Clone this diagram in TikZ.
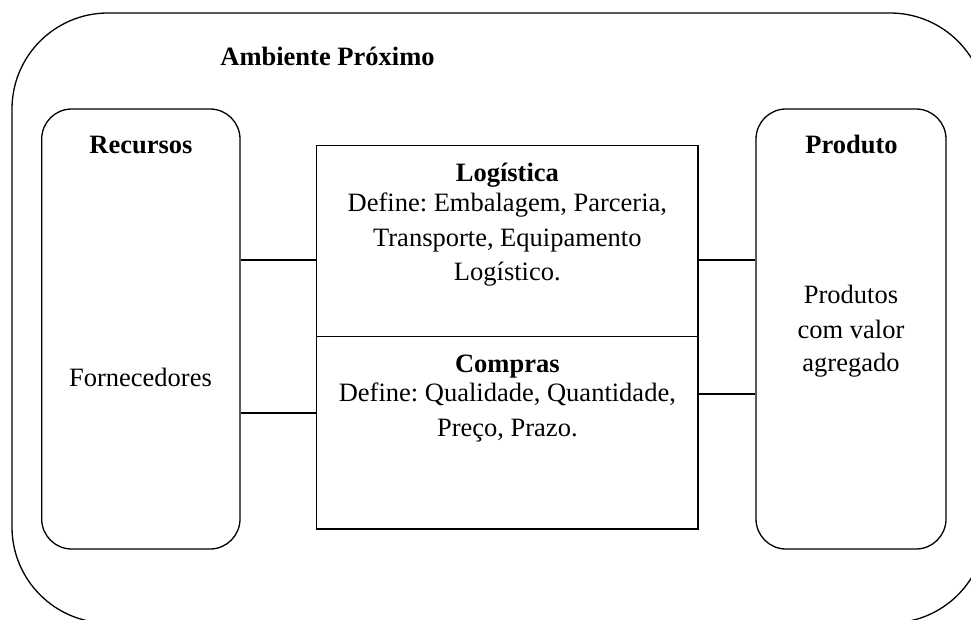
\documentclass[tikz,border=0pt]{standalone}
\usepackage{fontspec}
\setmainfont{Liberation Serif}
\frenchspacing
\begin{document}
\begin{tikzpicture}[x=1pt,y=-1pt,line width=1.3pt,
  txt/.style={font=\fontsize{26.5}{34.5}\selectfont, anchor=base, inner sep=0},
  bold/.style={txt, font=\fontsize{26.5}{34.5}\selectfont\bfseries},
  sidebox/.style={draw, rounded corners=30pt, inner sep=0, minimum height=440pt},
  midbox/.style={draw, inner sep=0, minimum width=381.3pt}]
\useasboundingbox (0,0) rectangle (971,619);
\clip (0,0) rectangle (971,619);
% outer environment
\draw[rounded corners=96pt] (12,13) rectangle (986,623);
\node[bold] (amb) at (327.5,65) {Ambiente Próximo};
% side boxes
\node[sidebox, minimum width=198.3pt] (rec) at (140.85,329) {};
\node[sidebox, minimum width=190pt] (prod) at (851,329) {};
% middle boxes
\node[midbox, minimum height=191pt] (log) at (507.35,241.2) {};
\node[midbox, minimum height=192.3pt] (comp) at (507.35,432.85) {};
% texts
\node[bold] (rect) at (141,153) {Recursos};
\node[txt] (forn) at (140.5,386.7) {Fornecedores};
\node[bold] (prodt) at (851.5,153) {Produto};
\node[txt] (p1) at (851,303.3) {Produtos};
\node[txt] (p2) at (851,338.3) {com valor};
\node[txt] (p3) at (851,371.7) {agregado};
\node[bold] (logt) at (507.35,181) {Logística};
\node[txt] (l1) at (507.35,211.7) {Define: Embalagem, Parceria,};
\node[txt] (l2) at (507.35,246) {Transporte, Equipamento};
\node[txt] (l3) at (507.35,280.5) {Logístico.};
\node[bold] (compt) at (507.35,372.7) {Compras};
\node[txt] (c1) at (507.35,401.7) {Define: Qualidade, Quantidade,};
\node[txt] (c2) at (507.35,436.5) {Preço, Prazo.};
% connectors
\draw (rec.east |- 0,260) -- (log.west |- 0,260);
\draw (rec.east |- 0,413) -- (comp.west |- 0,413);
\draw (log.east |- 0,260) -- (prod.west |- 0,260);
\draw (comp.east |- 0,394) -- (prod.west |- 0,394);
\end{tikzpicture}
\end{document}
